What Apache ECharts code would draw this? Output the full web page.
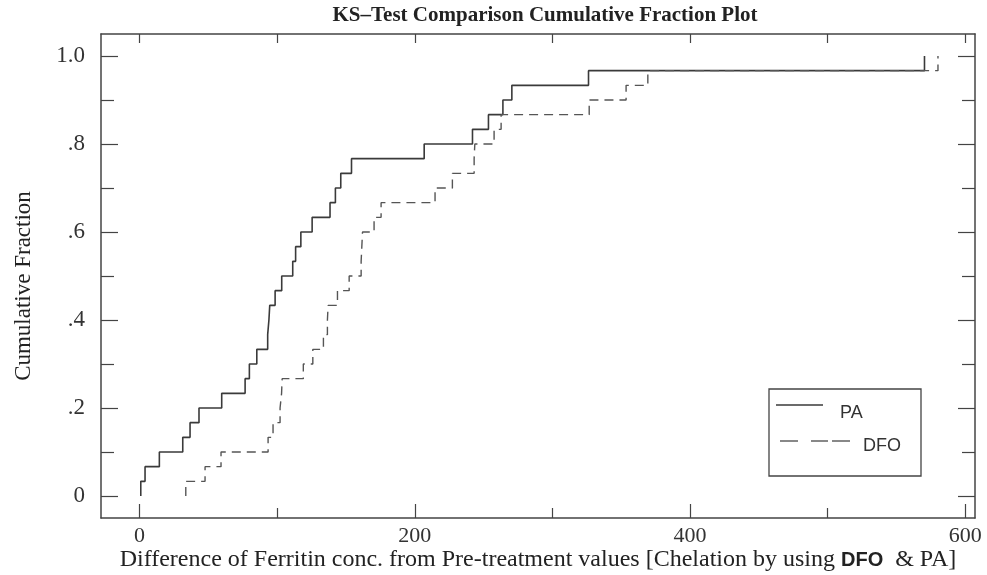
<!DOCTYPE html>
<html>
<head>
<meta charset="utf-8">
<script src="https://cdn.jsdelivr.net/npm/echarts@6/dist/echarts.min.js"></script>
<style>html,body{margin:0;padding:0;background:#fff;}#c{width:987px;height:575px;}</style>
</head>
<body>
<div id="c"></div>
<script>
const paValues = [0.9, 4.0, 14.4, 31.4, 36.7, 43.2, 59.7, 76.7, 79.8, 85.2, 93.1, 94.0, 94.6, 98.5, 103.3, 111.3, 113.4, 117.2, 125.4, 138.4, 142.3, 146.2, 154.0, 206.8, 241.9, 253.5, 264.0, 270.5, 326.2, 570.3];
const dfoValues = [33.6, 47.6, 59.2, 93.4, 97.0, 102.1, 103.2, 103.6, 119.0, 125.9, 133.6, 136.5, 137.0, 143.8, 152.3, 161.0, 161.5, 162.0, 170.4, 175.5, 214.7, 227.3, 243.1, 243.6, 257.6, 262.7, 326.7, 353.5, 369.3, 580.1];
// Cumulative fraction levels (start level followed by the level after each step)
const cumFraction = [0, 0.0333, 0.0667, 0.1, 0.1333, 0.1667, 0.2, 0.2333, 0.2667, 0.3, 0.3333, 0.3667, 0.4, 0.4333, 0.4667, 0.5, 0.5333, 0.5667, 0.6, 0.6333, 0.6667, 0.7, 0.7333, 0.7667, 0.8, 0.8333, 0.8667, 0.9, 0.9333, 0.9667, 1.0];
// Tick labels
const xMajorTicks = [0, 200, 400, 600];
const xMinorTicks = [100, 300, 500];
const xTopTicks = [0, 100, 200, 300, 400, 500, 600];
const yMajorTicks = [0, 0.2, 0.4, 0.6, 0.8, 1.0];
const yMinorTicks = [0.1, 0.3, 0.5, 0.7, 0.9];
const yTickText = {0: '0', 0.2: '.2', 0.4: '.4', 0.6: '.6', 0.8: '.8', 1: '1.0'};

function toSteps(vals) {
  const pts = [[vals[0], cumFraction[0]]];
  vals.forEach((v, i) => pts.push([v, cumFraction[i + 1]]));
  return pts;
}

const serif = '"Liberation Serif", "DejaVu Serif", serif';
const sans = '"Liberation Sans", Arial, sans-serif';
const axisCol = '#444';
const X_MIN = -28, X_MAX = 607, Y_MIN = -0.05, Y_MAX = 1.05;

function xAx(extra) {
  return Object.assign({
    type: 'value', min: X_MIN, max: X_MAX, splitLine: {show: false},
    axisLine: {show: false, onZero: false}, axisLabel: {show: false}, axisTick: {show: false}
  }, extra);
}
function yAx(extra) {
  return Object.assign({
    type: 'value', min: Y_MIN, max: Y_MAX, splitLine: {show: false},
    axisLine: {show: false, onZero: false}, axisLabel: {show: false}, axisTick: {show: false}
  }, extra);
}

const chart = echarts.init(document.getElementById('c'), null, {renderer: 'canvas'});
chart.setOption({
  animation: false,
  backgroundColor: '#fff',
  title: {
    text: 'KS\u2013Test Comparison Cumulative Fraction Plot',
    left: 540, top: 0, textAlign: 'center',
    textStyle: {fontFamily: serif, fontSize: 21, fontWeight: 'bold', color: '#222'}
  },
  grid: {left: 101, right: 12, top: 34, bottom: 57, containLabel: false, outerBoundsMode: 'none'},
  xAxis: [
    xAx({
      position: 'bottom',
      axisLine: {show: true, onZero: false, lineStyle: {color: axisCol, width: 1.5}},
      axisTick: {show: true, inside: true, length: 14, customValues: xMajorTicks, lineStyle: {color: axisCol, width: 1.2}},
      axisLabel: {show: true, customValues: xMajorTicks, margin: 7, fontFamily: serif, fontSize: 22, color: '#333'},
      name: '{a|Difference of Ferritin conc. from Pre-treatment values [Chelation by using }{b|DFO}{a|  & PA]}',
      nameLocation: 'middle', nameGap: 30, nameMoveOverlap: false,
      nameTextStyle: {
        rich: {
          a: {fontFamily: serif, fontSize: 24, color: '#222'},
          b: {fontFamily: sans, fontSize: 20, fontWeight: 'bold', color: '#222'}
        }
      }
    }),
    xAx({
      position: 'bottom',
      axisTick: {show: true, inside: true, length: 10, customValues: xMinorTicks, lineStyle: {color: axisCol, width: 1.2}}
    }),
    xAx({
      position: 'top',
      axisLine: {show: true, onZero: false, lineStyle: {color: axisCol, width: 1.5}},
      axisTick: {show: true, inside: true, length: 9, customValues: xTopTicks, lineStyle: {color: axisCol, width: 1.2}}
    })
  ],
  yAxis: [
    yAx({
      position: 'left',
      axisLine: {show: true, onZero: false, lineStyle: {color: axisCol, width: 1.5}},
      axisTick: {show: true, inside: true, length: 17, customValues: yMajorTicks, lineStyle: {color: axisCol, width: 1.2}},
      axisLabel: {
        show: true, customValues: yMajorTicks, margin: 16, fontFamily: serif, fontSize: 23, color: '#333',
        formatter: v => yTickText[Math.round(v * 10) / 10]
      },
      name: 'Cumulative Fraction', nameLocation: 'middle', nameGap: 66,
      nameTextStyle: {fontFamily: serif, fontSize: 23, color: '#222', padding: [0, 20, 0, 0]}
    }),
    yAx({
      position: 'left',
      axisTick: {show: true, inside: true, length: 13, customValues: yMinorTicks, lineStyle: {color: axisCol, width: 1.2}}
    }),
    yAx({
      position: 'right',
      axisLine: {show: true, onZero: false, lineStyle: {color: axisCol, width: 1.5}},
      axisTick: {show: true, inside: true, length: 17, customValues: yMajorTicks, lineStyle: {color: axisCol, width: 1.2}}
    }),
    yAx({
      position: 'right',
      axisTick: {show: true, inside: true, length: 13, customValues: yMinorTicks, lineStyle: {color: axisCol, width: 1.2}}
    })
  ],
  series: [
    {
      name: 'PA', type: 'line', step: 'end', xAxisIndex: 0, yAxisIndex: 0,
      showSymbol: false, symbol: 'none', data: toSteps(paValues),
      lineStyle: {color: '#3a3a3a', width: 1.6, type: 'solid'}
    },
    {
      name: 'DFO', type: 'line', step: 'end', xAxisIndex: 0, yAxisIndex: 0,
      showSymbol: false, symbol: 'none', data: toSteps(dfoValues),
      lineStyle: {color: '#555', width: 1.4, type: [9, 6]}
    }
  ],
  graphic: [
    {type: 'rect', shape: {x: 769, y: 389, width: 152, height: 87}, style: {fill: '#fff', stroke: '#444', lineWidth: 1.3}, z: 10},
    {type: 'line', shape: {x1: 776, y1: 405, x2: 823, y2: 405}, style: {stroke: '#3a3a3a', lineWidth: 1.4}, z: 11},
    {type: 'text', x: 840, y: 413, style: {text: 'PA', fontFamily: sans, fontSize: 18, fill: '#333', textVerticalAlign: 'middle'}, z: 11},
    {type: 'line', shape: {x1: 780, y1: 441, x2: 798, y2: 441}, style: {stroke: '#555', lineWidth: 1.4}, z: 11},
    {type: 'line', shape: {x1: 811, y1: 441, x2: 828, y2: 441}, style: {stroke: '#555', lineWidth: 1.4}, z: 11},
    {type: 'line', shape: {x1: 832, y1: 441, x2: 850, y2: 441}, style: {stroke: '#555', lineWidth: 1.4}, z: 11},
    {type: 'text', x: 863, y: 446, style: {text: 'DFO', fontFamily: sans, fontSize: 18, fill: '#333', textVerticalAlign: 'middle'}, z: 11}
  ]
});
</script>
</body>
</html>
